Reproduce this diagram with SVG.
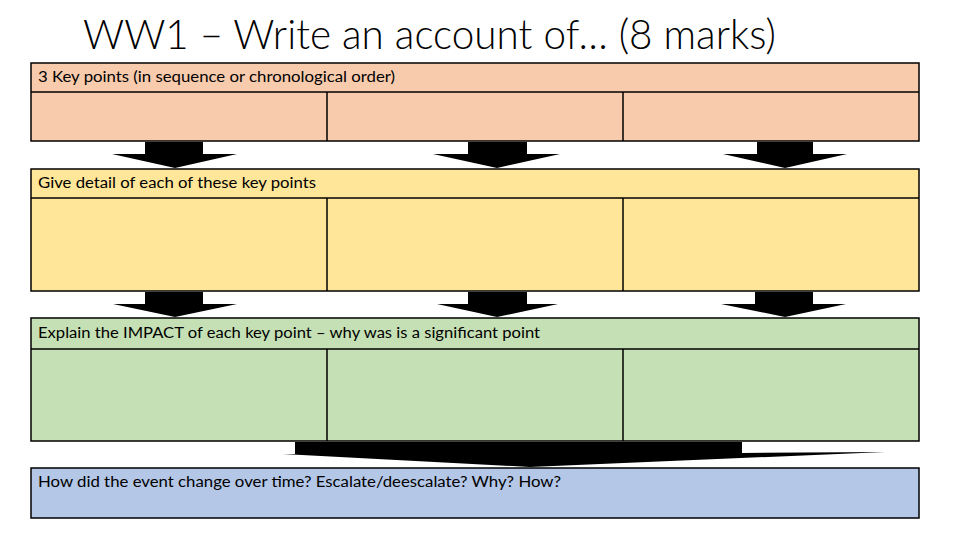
<svg xmlns="http://www.w3.org/2000/svg" width="960" height="540" viewBox="0 0 960 540">
<style>
.box{stroke:#000;stroke-width:1.5}
.r1{fill:#F8CBAD}.r2{fill:#FFE699}.r3{fill:#C5E0B4}.r4{fill:#B4C7E7}
.lbl{font-family:Lato,"Liberation Sans",sans-serif;font-size:14.5px;fill:#000}
.div{stroke:#000;stroke-width:1.5}
.arr{fill:#000}
</style>
<rect width="960" height="540" fill="#fff"/>
<text x="83" y="49" font-family="Lato,'Liberation Sans',sans-serif" font-size="41" fill="#000" font-weight="300" textLength="693" lengthAdjust="spacingAndGlyphs">WW1 – Write an account of… (8 marks)</text>

<g id="row1">
<rect class="box r1" x="31" y="63" width="888" height="78"/>
<line class="div" x1="31" y1="92" x2="919" y2="92"/>
<line class="div" x1="327" y1="92" x2="327" y2="141"/>
<line class="div" x1="623" y1="92" x2="623" y2="141"/>
<text class="lbl" x="38" y="82" textLength="357" lengthAdjust="spacingAndGlyphs">3 Key points (in sequence or chronological order)</text>
</g>
<g id="row2">
<rect class="box r2" x="31" y="169" width="888" height="122"/>
<line class="div" x1="31" y1="198" x2="919" y2="198"/>
<line class="div" x1="327" y1="198" x2="327" y2="291"/>
<line class="div" x1="623" y1="198" x2="623" y2="291"/>
<text class="lbl" x="38" y="188" textLength="278" lengthAdjust="spacingAndGlyphs">Give detail of each of these key points</text>
</g>
<g id="row3">
<rect class="box r3" x="31" y="318" width="888" height="123"/>
<line class="div" x1="31" y1="349" x2="919" y2="349"/>
<line class="div" x1="327" y1="349" x2="327" y2="441"/>
<line class="div" x1="623" y1="349" x2="623" y2="441"/>
<text class="lbl" x="38" y="338" textLength="502" lengthAdjust="spacingAndGlyphs">Explain the IMPACT of each key point – why was is a significant point</text>
</g>
<g id="row4">
<rect class="box r4" x="31" y="468" width="888" height="50"/>
<text class="lbl" x="38" y="487" textLength="523" lengthAdjust="spacingAndGlyphs">How did the event change over time? Escalate/deescalate? Why? How?</text>
</g>

<g id="connectors">
<polygon class="arr" points="145,142 203,142 203,154 237,154 175,168 112,154 145,154"/>
<polygon class="arr" points="468,142 527,142 527,154 560,154 497,168 433,154 468,154"/>
<polygon class="arr" points="757,142 813,142 813,154 847,154 785,168 723,154 757,154"/>
<polygon class="arr" points="145,292 203,292 203,304 237,304 175,317 113,304 145,304"/>
<polygon class="arr" points="468,292 527,292 527,304 558,304 497,317 437,304 468,304"/>
<polygon class="arr" points="755,292 813,292 813,304 846,304 785,317 721,304 755,304"/>
<polygon class="arr" points="295,442 742,442 742,453 885,452 530,467 283,454 295,454"/>
</g>
</svg>
